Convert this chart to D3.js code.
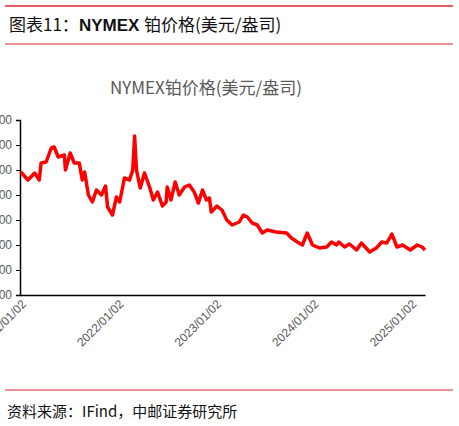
<!DOCTYPE html>
<html><head><meta charset="utf-8">
<script src="https://cdn.jsdelivr.net/npm/d3@7"></script>
<style>body{margin:0;background:#fff;}svg{display:block;}</style>
</head><body>
<svg id="c" width="459" height="426"></svg>
<script>
const dates = ["2021-01-04","2021-02-01","2021-02-26","2021-03-15","2021-03-22","2021-04-10","2021-04-29","2021-05-10","2021-05-25","2021-06-17","2021-06-21","2021-07-09","2021-07-24","2021-08-12","2021-08-23","2021-09-01","2021-09-15","2021-09-30","2021-10-15","2021-11-03","2021-11-18","2021-11-26","2021-12-14","2021-12-29","2022-01-10","2022-01-28","2022-02-16","2022-02-28","2022-03-07","2022-03-14","2022-03-28","2022-04-13","2022-05-02","2022-05-16","2022-06-01","2022-06-19","2022-07-03","2022-07-07","2022-07-21","2022-08-06","2022-08-21","2022-09-10","2022-09-28","2022-10-16","2022-11-01","2022-11-16","2022-12-01","2022-12-12","2022-12-19","2023-01-09","2023-01-28","2023-02-15","2023-03-07","2023-04-03","2023-04-18","2023-05-03","2023-05-21","2023-06-09","2023-06-28","2023-07-16","2023-08-19","2023-09-27","2023-10-15","2023-11-06","2023-11-25","2023-12-13","2024-01-02","2024-01-28","2024-02-24","2024-03-13","2024-04-01","2024-04-09","2024-05-01","2024-05-19","2024-06-15","2024-07-03","2024-08-03","2024-08-28","2024-09-17","2024-10-06","2024-10-25","2024-11-13","2024-12-04","2025-01-02","2025-01-28","2025-02-15","2025-02-26"];
const prices = [1093,1060,1088,1060,1128,1132,1188,1192,1152,1160,1100,1168,1128,1128,1060,1092,1000,972,1020,1000,1036,952,920,992,972,1068,1060,1100,1236,1100,1028,1088,1032,980,1012,956,972,1032,980,1052,1000,1032,1040,1012,968,1020,980,988,932,956,940,900,880,892,920,912,888,880,848,860,852,848,828,812,800,848,800,788,792,812,800,812,792,804,780,808,772,788,812,808,844,792,800,780,800,792,780];
const yTicks = [600,700,800,900,1000,1100,1200,1300];
const xTickDates = ["2021-01-02","2022-01-02","2023-01-02","2024-01-02","2025-01-02"];

const svg = d3.select("#c");
const parse = d3.timeParse("%Y-%m-%d");
const fmt = d3.timeFormat("%Y/%m/%d");
const data = dates.map((d,i)=>({d:parse(d),v:prices[i]}));
const L=20,R=425,T=120,B=295;
const x = d3.scaleTime().domain([parse("2021-01-02"),parse("2025-02-26")]).range([L,R]);
const y = d3.scaleLinear().domain([600,1300]).range([B,T]);

svg.append("line").attr("x1",5).attr("x2",453).attr("y1",6).attr("y2",6).attr("stroke","#e0262b").attr("stroke-width",1.5);
svg.append("line").attr("x1",5).attr("x2",453).attr("y1",44).attr("y2",44).attr("stroke","#e0262b").attr("stroke-width",1.2);
const t = svg.append("text").attr("x",9).attr("y",31).attr("font-family","Noto Sans CJK SC").attr("font-size",17).attr("fill","#111");
t.append("tspan").text("图表11：");
t.append("tspan").attr("font-weight","bold").attr("font-family","Liberation Sans Narrow, Liberation Sans").text("NYMEX ");
t.append("tspan").text("铂价格(美元/盎司)");
svg.append("text").attr("x",206).attr("y",94).attr("text-anchor","middle").attr("font-family","Noto Sans CJK SC, sans-serif").attr("font-size",17).attr("fill","#595959").text("NYMEX铂价格(美元/盎司)");

const ya = svg.append("g").attr("transform",`translate(${L},0)`).call(d3.axisLeft(y).tickValues(yTicks).tickSize(4).tickPadding(4));
ya.select(".domain").attr("stroke","#000").attr("stroke-width",1.5);
ya.selectAll("line").attr("stroke","#000");
ya.selectAll("text").attr("font-family","Liberation Sans, sans-serif").attr("font-size",12).attr("fill","#595959");
const xa = svg.append("g").attr("transform",`translate(0,${B})`).call(d3.axisBottom(x).tickValues(xTickDates.map(parse)).tickFormat(fmt).tickSize(0).tickPadding(8));
xa.select(".domain").attr("stroke","#000").attr("stroke-width",1.5);
xa.selectAll("text").attr("font-family","Liberation Sans, sans-serif").attr("font-size",12).attr("fill","#595959")
  .attr("text-anchor","end").attr("dx","-0.2em").attr("dy","0.3em").attr("transform","rotate(-45)");

svg.append("path").datum(data).attr("fill","none").attr("stroke","#ff0000").attr("stroke-width",3.5).attr("stroke-linejoin","round")
  .attr("d",d3.line().x(d=>x(d.d)).y(d=>y(d.v)));

svg.append("line").attr("x1",5).attr("x2",453).attr("y1",390).attr("y2",390).attr("stroke","#e0262b").attr("stroke-width",1.2);
svg.append("text").attr("x",7).attr("y",417).attr("font-family","Noto Sans CJK SC").attr("font-size",15).attr("fill","#111").text("资料来源：IFind，中邮证券研究所");
</script>
</body></html>
